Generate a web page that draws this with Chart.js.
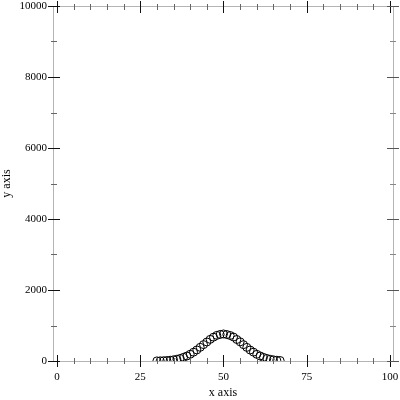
<!DOCTYPE html>
<html>
<head>
<meta charset="utf-8">
<script src="https://cdn.jsdelivr.net/npm/chart.js@4/dist/chart.umd.min.js"></script>
<style>
  html, body { margin: 0; padding: 0; background: #fff; }
  #wrap { width: 400px; height: 400px; }
</style>
</head>
<body>
<div id="wrap"><canvas id="chart" width="400" height="400"></canvas></div>
<script>
// dados
const xValues = [30, 31, 32, 33, 34, 35, 36, 37, 38, 39, 40, 41, 42, 43, 44, 45, 46, 47, 48, 49,
                 50, 51, 52, 53, 54, 55, 56, 57, 58, 59, 60, 61, 62, 63, 64, 65, 66, 67];
const yValues = [3, 5, 8, 14, 22, 34, 50, 72, 104, 140, 190, 248, 312, 386, 462, 536, 610, 672, 722, 748,
                 762, 745, 718, 675, 606, 540, 460, 384, 310, 250, 188, 142, 102, 72, 50, 33, 22, 14];
const xMajorTicks = [0, 25, 50, 75, 100];
const xMinorTicks = [5, 10, 15, 20, 30, 35, 40, 45, 55, 60, 65, 70, 80, 85, 90, 95];
const yMajorTicks = [0, 2000, 4000, 6000, 8000, 10000];
const yMinorTicks = [1000, 3000, 5000, 7000, 9000];

const points = xValues.map((x, i) => ({ x: x, y: yValues[i] }));
const serif = "'Liberation Serif', 'DejaVu Serif', serif";

// desenha a moldura e as marcas (maiores e menores) nos quatro lados
const axisFrame = {
    id: 'axisFrame',
    afterDraw(chart) {
        const ctx = chart.ctx;
        const a = chart.chartArea;
        const xs = chart.scales.x;
        const ys = chart.scales.y;
        ctx.save();
        ctx.lineWidth = 1;
        ctx.strokeStyle = '#b4b4b4';
        ctx.strokeRect(a.left + 0.5, a.top + 0.5, a.right - a.left, a.bottom - a.top);

        function mark(x1, y1, x2, y2, color) {
            ctx.strokeStyle = color;
            ctx.beginPath();
            ctx.moveTo(x1, y1);
            ctx.lineTo(x2, y2);
            ctx.stroke();
        }
        xMajorTicks.forEach(v => {
            const p = Math.round(xs.getPixelForValue(v)) + 0.5;
            mark(p, a.bottom - 6, p, a.bottom + 6, '#111');
            mark(p, a.top - 5, p, a.top + 7, '#111');
        });
        xMinorTicks.forEach(v => {
            const p = Math.round(xs.getPixelForValue(v)) + 0.5;
            mark(p, a.bottom - 3, p, a.bottom + 3, '#666');
            mark(p, a.top - 2, p, a.top + 4, '#666');
        });
        yMajorTicks.forEach(v => {
            const p = Math.round(ys.getPixelForValue(v)) + 0.5;
            mark(a.left - 5, p, a.left + 7, p, '#111');
            mark(a.right - 6, p, a.right + 6, p, '#555');
        });
        yMinorTicks.forEach(v => {
            const p = Math.round(ys.getPixelForValue(v)) + 0.5;
            mark(a.left - 2, p, a.left + 4, p, '#666');
            mark(a.right - 3, p, a.right + 3, p, '#888');
        });
        ctx.restore();
    }
};

new Chart(document.getElementById('chart'), {
    type: 'scatter',
    data: {
        datasets: [{
            label: 'dados',
            data: points,
            pointStyle: 'circle',
            pointRadius: 4,
            pointBorderWidth: 1,
            pointBorderColor: '#000',
            pointBackgroundColor: 'rgba(0,0,0,0)'
        }]
    },
    options: {
        responsive: false,
        animation: false,
        layout: {
            padding: { top: 6, right: 7, left: 0, bottom: 0 }
        },
        plugins: {
            legend: { display: false },
            tooltip: { enabled: false }
        },
        scales: {
            x: {
                type: 'linear',
                min: -1.2,
                max: 100.9,
                afterBuildTicks: scale => {
                    scale.ticks = xMajorTicks.map(v => ({ value: v }));
                },
                afterFit: scale => {
                    scale.height = 39;
                    scale.paddingLeft = 0;
                    scale.paddingRight = 0;
                },
                grid: { display: false },
                border: { display: false },
                ticks: {
                    color: '#000',
                    padding: 2,
                    maxRotation: 0,
                    callback: v => String(v),
                    font: { family: serif, size: 11 }
                },
                title: {
                    display: true,
                    text: 'x axis',
                    color: '#000',
                    padding: { top: 7, bottom: 0 },
                    font: { family: serif, size: 12 }
                }
            },
            y: {
                type: 'linear',
                min: 0,
                max: 10000,
                afterBuildTicks: scale => {
                    scale.ticks = yMajorTicks.map(v => ({ value: v }));
                },
                afterFit: scale => {
                    scale.width = 53;
                    scale.paddingTop = 0;
                    scale.paddingBottom = 0;
                },
                grid: { display: false, drawTicks: false },
                border: { display: false },
                ticks: {
                    color: '#000',
                    padding: 6,
                    callback: v => String(v),
                    font: { family: serif, size: 11 }
                },
                title: {
                    display: true,
                    text: 'y axis',
                    color: '#000',
                    padding: { top: 0, bottom: 0 },
                    font: { family: serif, size: 12 }
                }
            }
        }
    },
    plugins: [axisFrame]
});
</script>
</body>
</html>
